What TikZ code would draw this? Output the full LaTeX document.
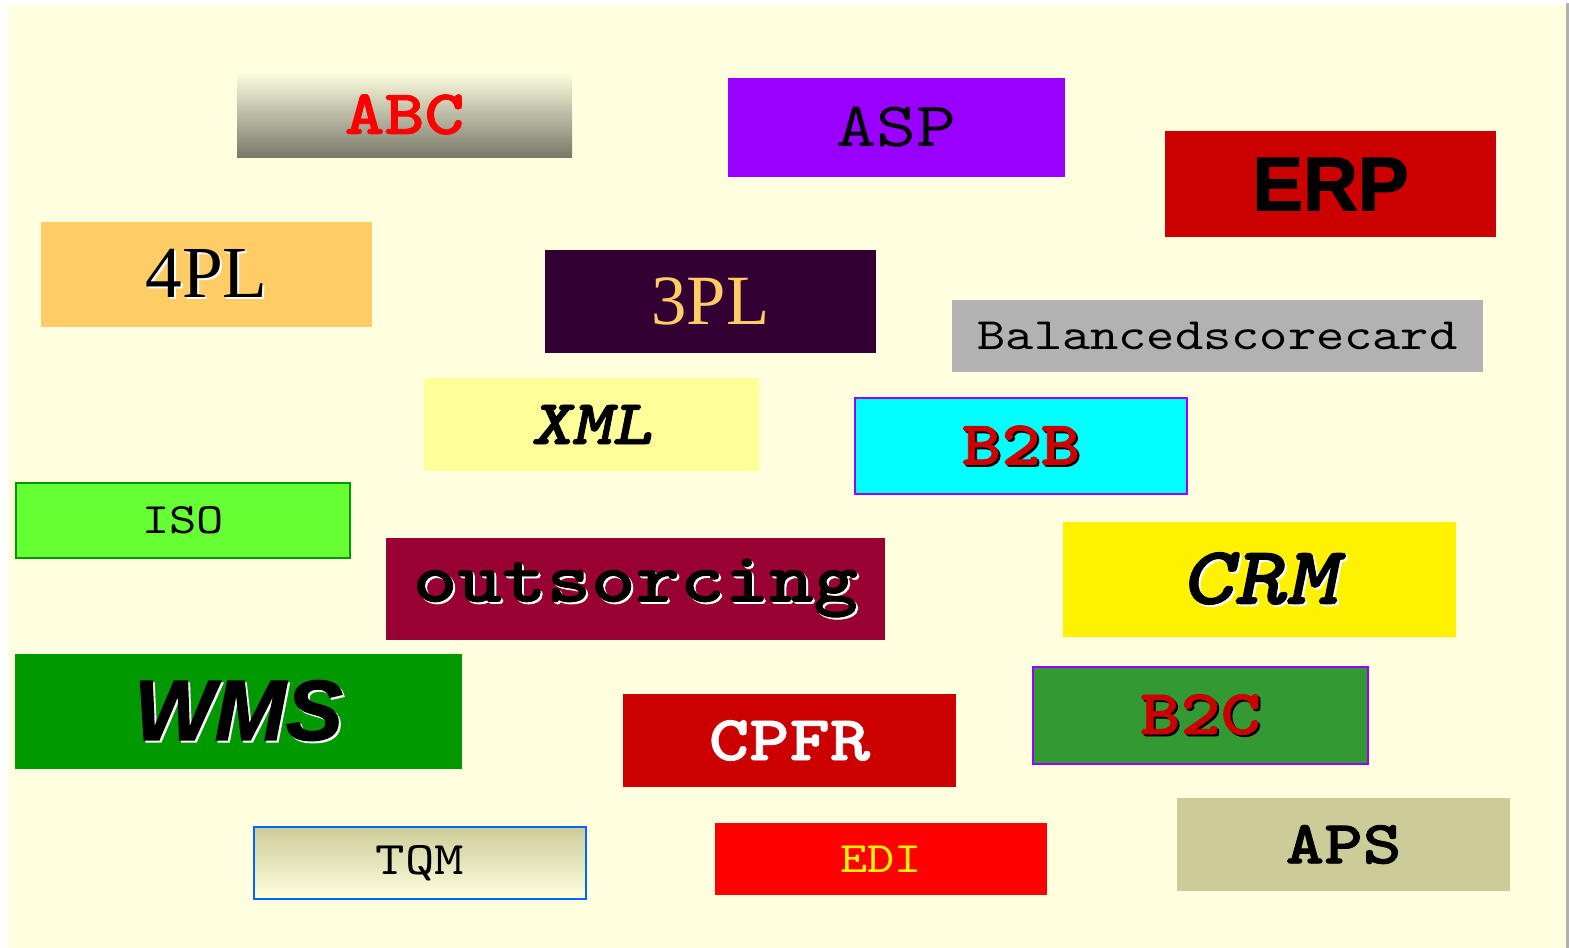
\documentclass[tikz,border=0pt]{standalone}
\usepackage{fontspec}
\setmainfont{Liberation Serif}
\newfontfamily\monofont{lmmono10-regular.otf}[
	BoldFont=lmmonolt10-bold.otf,
	ItalicFont=lmmono10-italic.otf,
	BoldItalicFont=lmmonolt10-boldoblique.otf,
	BoldFeatures={FakeBold=1.2},
	BoldItalicFeatures={FakeBold=1.2},
	FakeStretch=1.2]
\newfontfamily\sansfont{Liberation Sans}[
	BoldFeatures={FakeBold=1.6},
	BoldItalicFeatures={FakeBold=1.6}]

\definecolor{pagebg}{HTML}{FFFFE0}
\definecolor{edgegray}{HTML}{B0B0B0}
\definecolor{oliveshade}{HTML}{77776A}
\definecolor{violetbox}{HTML}{9900FF}
\definecolor{darkred}{HTML}{CC0000}
\definecolor{apricot}{HTML}{FFCC66}
\definecolor{plum}{HTML}{330033}
\definecolor{silverbox}{HTML}{B2B2B2}
\definecolor{paleyellow}{HTML}{FFFF99}
\definecolor{aquabox}{HTML}{00FFFF}
\definecolor{limebox}{HTML}{66FF33}
\definecolor{grassgreen}{HTML}{009900}
\definecolor{winered}{HTML}{990033}
\definecolor{leafgreen}{HTML}{339933}
\definecolor{khaki}{HTML}{CCCC99}
\definecolor{skyblue}{HTML}{0066FF}

% text with a drop shadow: offset, shadow colour, text
\newcommand{\dropt}[3]{\makebox[0pt][l]{\hspace{#1}\raisebox{-#1}{\color{#2}#3}}#3}
\newcommand{\fs}[1]{\fontsize{#1}{#1}\selectfont}

\tikzset{
	tag/.style={inner sep=0pt, outer sep=0pt, anchor=center},
	wh/.style 2 args={minimum width=#1*0.75pt, minimum height=#2*0.75pt},
	framed/.style={draw=#1, line width=1.5pt}}

\begin{document}
\begin{tikzpicture}[x=0.75pt,y=0.75pt,yscale=-1,xscale=1]
	\useasboundingbox (0,0) rectangle (1569,948);

	%Shape: page background
	\fill [white] (0,0) rectangle (1569,948);
	\fill [pagebg] (8,5) rectangle (1566,948);
	\fill [edgegray] (1566,3) rectangle (1569,948);

	% first row
	\node [tag, wh={335}{87}, top color=pagebg, bottom color=oliveshade, text=red] (abc) at (404.5,114.5) {\monofont\bfseries\fs{47.5}ABC};
	\node [tag, wh={337}{99}, fill=violetbox, text=black] (asp) at (896.5,127.5) {\monofont\fs{47.5}ASP};
	\node [tag, wh={331}{106}, fill=darkred, text=black] (erp) at (1330.5,184) {\sansfont\bfseries\fs{57}ERP};

	% second row
	\node [tag, wh={331}{105}, fill=apricot, text=black] (fourpl) at (206.5,274.5) {\fs{55}\dropt{1.5pt}{white}{4PL}};
	\node [tag, wh={331}{103}, fill=plum, text=apricot] (threepl) at (710.5,301.5) {\fs{53}3PL};
	\node [tag, wh={531}{72}, fill=silverbox, text=black] (bsc) at (1217.5,336) {\monofont\fs{33.6}Balancedscorecard};

	% third row
	\node [tag, wh={335}{93}, fill=paleyellow, text=black] (xml) at (591.5,424.5) {\monofont\bfseries\itshape\fs{48}XML};
	\node [tag, wh={332}{96}, fill=aquabox, framed=violetbox, text=darkred] (btob) at (1021,446) {\monofont\bfseries\fs{47}\dropt{1.5pt}{black}{B2B}};
	\node [tag, wh={334}{75}, fill=limebox, framed=grassgreen, text=black] (iso) at (183,520.5) {\monofont\fs{32.5}ISO};

	% fourth row
	\node [tag, wh={499}{102}, fill=winered, text=black] (outs) at (635.5,589) {\monofont\bfseries\fs{53}\dropt{1.5pt}{white}{outsorcing}};
	\node [tag, wh={393}{115}, fill=yellow, text=black] (crm) at (1259.5,579.5) {\monofont\bfseries\itshape\fs{62}\dropt{1.5pt}{white}{CRM}};

	% fifth row
	\node [tag, wh={447}{115}, fill=grassgreen, text=black] (wms) at (238.5,711.5) {\sansfont\bfseries\itshape\fs{64}\dropt{1.5pt}{white}{WMS}};
	\node [tag, wh={333}{93}, fill=darkred, text=white] (cpfr) at (789.5,740.5) {\monofont\bfseries\fs{48}CPFR};
	\node [tag, wh={335}{97}, fill=leafgreen, framed=violetbox, text=darkred] (btoc) at (1200.5,715.5) {\monofont\bfseries\fs{48}\dropt{1.5pt}{black}{B2C}};

	% last row
	\node [tag, wh={332}{72}, top color=khaki, bottom color=pagebg, framed=skyblue, text=black] (tqm) at (420,863) {\monofont\fs{35}TQM};
	\node [tag, wh={332}{72}, fill=red, text=yellow] (edi) at (881,859) {\monofont\fs{32.5}EDI};
	\node [tag, wh={333}{93}, fill=khaki, text=black] (aps) at (1343.5,844.5) {\monofont\bfseries\fs{46}APS};

\end{tikzpicture}
\end{document}
